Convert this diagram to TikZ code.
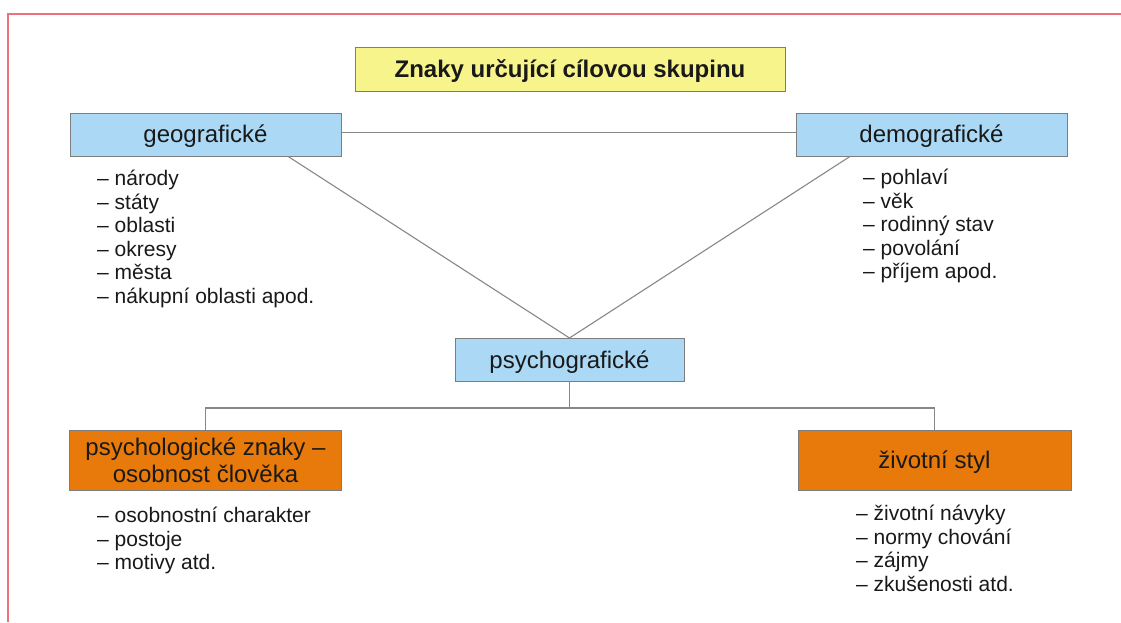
\documentclass[tikz,border=0pt]{standalone}
\usepackage{fontspec}
\setmainfont{Liberation Sans}
\usetikzlibrary{calc}

\definecolor{frameRed}{RGB}{238,112,122}
\definecolor{titleFill}{RGB}{247,244,140}
\definecolor{skyFill}{RGB}{170,216,245}
\definecolor{amberFill}{RGB}{231,122,10}
\definecolor{edgeGray}{RGB}{125,125,125}
\definecolor{wireGray}{RGB}{135,135,135}
\definecolor{inkText}{RGB}{25,25,25}

\tikzset{
  boxbase/.style={draw=edgeGray, line width=1pt, inner sep=0pt, text=inkText,
    font=\fontsize{24}{27}\selectfont, align=center},
  oneline/.style={text height=20pt, text depth=4pt},
  titlebox/.style={boxbase, oneline, fill=titleFill, font=\fontsize{24}{27}\selectfont\bfseries,
    minimum width=430pt, minimum height=44pt},
  bluebox/.style={boxbase, oneline, fill=skyFill, minimum height=43pt},
  orangebox/.style={boxbase, fill=amberFill, minimum height=60pt},
  % lists are placed by the baseline of their last line
  itemlist/.style={anchor=base west, inner sep=0pt, align=left, text=inkText,
    font=\fontsize{21}{23.5}\selectfont},
  wire/.style={draw=wireGray, line width=1.1pt},
  frameline/.style={draw=frameRed, line width=1.6pt}
}

\begin{document}
\begin{tikzpicture}[x=1pt, y=-1pt]
  \useasboundingbox (0,0) rectangle (1121,622);

  % page frame
  \draw[frameline] (1121,14) -- (8,14) -- (8,622);

  % boxes
  \node[titlebox] (title) at (570,69) {Znaky určující cílovou skupinu};
  \node[bluebox, minimum width=271pt] (geo) at (205.5,134.5) {geografické};
  \node[bluebox, minimum width=271pt] (demo) at (931.5,134.5) {demografické};
  \node[bluebox, minimum width=229pt] (psycho) at (569.5,360) {psychografické};
  \node[orangebox, minimum width=272pt] (psychol) at (205.5,460)
    {psychologické znaky –\\osobnost člověka};
  \node[orangebox, oneline, minimum width=273pt] (life) at (934.5,460) {životní styl};

  % item lists
  \node[itemlist] (geoList) at (97,303)
    {– národy\\– státy\\– oblasti\\– okresy\\– města\\– nákupní oblasti apod.};
  \node[itemlist] (demoList) at (863,278.5)
    {– pohlaví\\– věk\\– rodinný stav\\– povolání\\– příjem apod.};
  \node[itemlist] (psycholList) at (97,569.5)
    {– osobnostní charakter\\– postoje\\– motivy atd.};
  \node[itemlist] (lifeList) at (856,591)
    {– životní návyky\\– normy chování\\– zájmy\\– zkušenosti atd.};

  % connectors
  \draw[wire] ([yshift=2pt]geo.east) -- ([yshift=2pt]demo.west);
  \draw[wire] ($(geo.south west)!0.804!(geo.south east)$) -- (psycho.north);
  \draw[wire] ($(demo.south west)!0.2!(demo.south east)$) -- (psycho.north);
  \draw[wire] (psycho.south) -- ++(0,26) coordinate (fork);
  \draw[wire] (psychol.north) |- (fork) -| (life.north);
\end{tikzpicture}
\end{document}
